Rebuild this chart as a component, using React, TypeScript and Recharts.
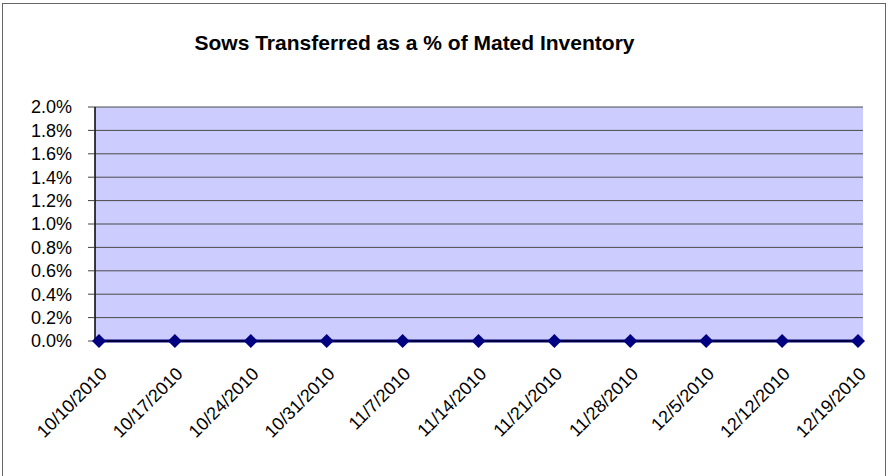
import { CartesianGrid, Line, LineChart, XAxis, YAxis } from "recharts";

const weeks = [
  "10/10/2010",
  "10/17/2010",
  "10/24/2010",
  "10/31/2010",
  "11/7/2010",
  "11/14/2010",
  "11/21/2010",
  "11/28/2010",
  "12/5/2010",
  "12/12/2010",
  "12/19/2010",
];
const transferredPct = [0, 0, 0, 0, 0, 0, 0, 0, 0, 0, 0];
const pctTicks = [0, 0.002, 0.004, 0.006, 0.008, 0.01, 0.012, 0.014, 0.016, 0.018, 0.02];

const FONT = "Arial, 'Liberation Sans', sans-serif";

const chartData = weeks.map((week, i) => ({ week, value: transferredPct[i] }));

function DateTick({ x, y, payload }: any) {
  return (
    <text
      x={x}
      y={y}
      dy="0.71em"
      textAnchor="end"
      transform={`rotate(-45 ${x} ${y})`}
      fill="#000"
      fontSize={18}
      fontFamily={FONT}
    >
      {payload.value}
    </text>
  );
}

function Diamond({ cx, cy }: any) {
  if (cx == null || cy == null) return null;
  return (
    <polygon
      points={`${cx},${cy - 7} ${cx + 7},${cy} ${cx},${cy + 7} ${cx - 7},${cy}`}
      fill="#000080"
    />
  );
}

export default function App() {
  return (
    <div
      style={{
        position: "absolute",
        left: 0,
        top: 0,
        width: 888,
        height: 476,
        background: "#fff",
        fontFamily: FONT,
        overflow: "hidden",
      }}
    >
      <div
        style={{
          position: "absolute",
          left: 2,
          top: 3,
          width: 884,
          height: 473,
          border: "1px solid #666",
          borderBottom: "none",
          boxSizing: "border-box",
        }}
      />
      <div
        style={{
          position: "absolute",
          left: 0,
          top: 31,
          width: 829,
          textAlign: "center",
          fontSize: 21,
          lineHeight: "24px",
          fontWeight: "bold",
          color: "#000",
        }}
      >
        Sows Transferred as a % of Mated Inventory
      </div>
      <LineChart
        width={888}
        height={476}
        data={chartData}
        margin={{ top: 107, right: 25, bottom: 0, left: 0 }}
        style={{ position: "absolute", left: 0, top: 0 }}
      >
        <CartesianGrid
          vertical={false}
          stroke="#4a4a4a"
          fill="#CCCCFF"
          fillOpacity={1}
        />
        <XAxis
          dataKey="week"
          interval={0}
          padding={{ left: 4, right: 5 }}
          axisLine={{ stroke: "#000", strokeWidth: 1 }}
          tickLine={{ stroke: "#808080" }}
          tickSize={5}
          tickMargin={20}
          height={135}
          tick={<DateTick />}
        />
        <XAxis
          xAxisId="frame"
          dataKey="week"
          orientation="top"
          height={0}
          tick={false}
          tickLine={false}
          axisLine={{ stroke: "#808080", strokeWidth: 2.5 }}
        />
        <YAxis
          domain={[0, 0.02]}
          ticks={pctTicks}
          interval={0}
          width={95}
          tickSize={7}
          tickMargin={16}
          axisLine={{ stroke: "#000", strokeWidth: 1.5 }}
          tickLine={{ stroke: "#404040" }}
          tick={{ fill: "#000", fontSize: 18, fontFamily: FONT }}
          tickFormatter={(v: number) => `${(v * 100).toFixed(1)}%`}
        />
        <YAxis
          yAxisId="frame"
          orientation="right"
          domain={[0, 1]}
          width={0}
          tick={false}
          tickLine={false}
          axisLine={{ stroke: "#808080", strokeWidth: 2.5 }}
        />
        <Line
          type="linear"
          dataKey="value"
          stroke="#000080"
          strokeWidth={3}
          dot={<Diamond />}
          activeDot={false}
          isAnimationActive={false}
        />
      </LineChart>
    </div>
  );
}
